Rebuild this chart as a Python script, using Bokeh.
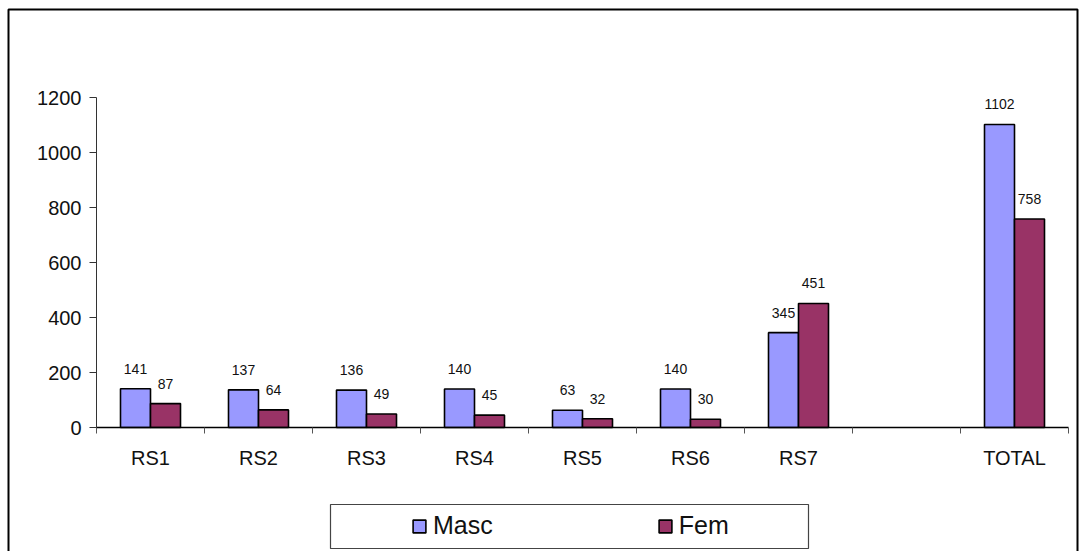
import numpy as np
from bokeh.plotting import figure
from bokeh.models import (Range1d, FixedTicker, ColumnDataSource, LabelSet,
                          Legend, LegendItem, BoxAnnotation)
from bokeh.core.properties import value
from bokeh.embed import file_html
from bokeh.resources import INLINE

categories = ["RS1", "RS2", "RS3", "RS4", "RS5", "RS6", "RS7", "", "TOTAL"]
masc = [141, 137, 136, 140, 63, 140, 345, None, 1102]
fem = [87, 64, 49, 45, 32, 30, 451, None, 758]
y_ticks = [0, 200, 400, 600, 800, 1000, 1200]

MASC_COLOR = "#9999FF"
FEM_COLOR = "#993366"
FONT = "Liberation Sans"

n = len(categories)
centers = np.arange(n) + 0.5
bar_w = 30 / 108.0

# frame covers the whole canvas; axes are pinned at the data origin
W, H = 1080, 551
px_x = 108.0          # pixels per category
px_y = 330.0 / 1200   # pixels per unit
x0_px, y0_px = 96, 427
x_range = Range1d(-x0_px / px_x, n + (W - x0_px - n * px_x) / px_x)
y_range = Range1d(-(H - y0_px) / px_y, 1200 + (y0_px - 330) / px_y)

p = figure(width=W, height=H, output_backend="svg", toolbar_location=None,
           x_range=x_range, y_range=y_range,
           min_border_left=0, min_border_right=0, min_border_top=0,
           min_border_bottom=0)
p.title.visible = False
p.outline_line_color = None
p.xgrid.visible = False
p.ygrid.visible = False
p.background_fill_color = "white"
p.border_fill_color = "white"

def mk(vals, off):
    xs, ys, lab = [], [], []
    for c, v in zip(centers, vals):
        if v is None:
            continue
        xs.append(c + off)
        ys.append(v)
        lab.append(str(v))
    return ColumnDataSource(dict(x=xs, top=ys, lab=lab))

src_m = mk(masc, -bar_w / 2)
src_f = mk(fem, bar_w / 2)

rm = p.vbar(x="x", top="top", bottom=0, width=bar_w, source=src_m,
            fill_color=MASC_COLOR, line_color="black", line_width=1.6)
rf = p.vbar(x="x", top="top", bottom=0, width=bar_w, source=src_f,
            fill_color=FEM_COLOR, line_color="black", line_width=1.6)

for s in (src_m, src_f):
    p.add_layout(LabelSet(x="x", y="top", text="lab", source=s, y_offset=20,
                          text_align="center", text_baseline="middle",
                          text_font=value(FONT), text_font_size="14px",
                          text_color="#111111"))

# X axis: labels at centers, tick marks at category boundaries
xa = p.xaxis[0]
xa.fixed_location = 0
xa.bounds = (0, n)
xa.ticker = FixedTicker(ticks=list(centers), minor_ticks=list(range(n + 1)))
xa.major_label_overrides = {float(c): lab for c, lab in zip(centers, categories)}
xa.major_tick_out = 0
xa.major_tick_in = 0
xa.minor_tick_out = 6
xa.minor_tick_in = 0
xa.minor_tick_line_color = "#555555"
xa.axis_line_color = "black"
xa.axis_line_width = 1.3
xa.major_label_text_font = FONT
xa.major_label_text_font_size = "20px"
xa.major_label_text_color = "#111111"
xa.major_label_standoff = 13

ya = p.yaxis[0]
ya.fixed_location = 0
ya.bounds = (0, 1200)
ya.ticker = FixedTicker(ticks=y_ticks, minor_ticks=[])
ya.major_tick_out = 7
ya.major_tick_in = 0
ya.major_tick_line_color = "#333333"
ya.axis_line_color = "#333333"
ya.major_label_text_font = FONT
ya.major_label_text_font_size = "20px"
ya.major_label_text_color = "#111111"
ya.major_label_standoff = 8

# outer chart border and legend box
p.add_layout(BoxAnnotation(left=8, right=1077, top=9, bottom=600,
                           left_units="canvas", right_units="canvas",
                           top_units="canvas", bottom_units="canvas",
                           fill_alpha=0, line_color="black", line_alpha=1.0,
                           line_width=2, level="overlay"))
p.add_layout(BoxAnnotation(left=330, right=808, top=504, bottom=548,
                           left_units="canvas", right_units="canvas",
                           top_units="canvas", bottom_units="canvas",
                           fill_alpha=0, line_color="#444444", line_alpha=1.0,
                           line_width=1.2, level="overlay"))

legend = Legend(items=[LegendItem(label="Masc", renderers=[rm]),
                       LegendItem(label="Fem", renderers=[rf])],
                orientation="horizontal", location=(411, 11),
                glyph_width=16, glyph_height=16, label_standoff=6,
                spacing=164, padding=0, margin=0,
                border_line_alpha=0, background_fill_alpha=0,
                label_text_font=FONT, label_text_font_size="25px",
                label_text_color="#111111", label_height=20)
p.add_layout(legend, "center")

open("out.html", "w").write(file_html(p, INLINE))
